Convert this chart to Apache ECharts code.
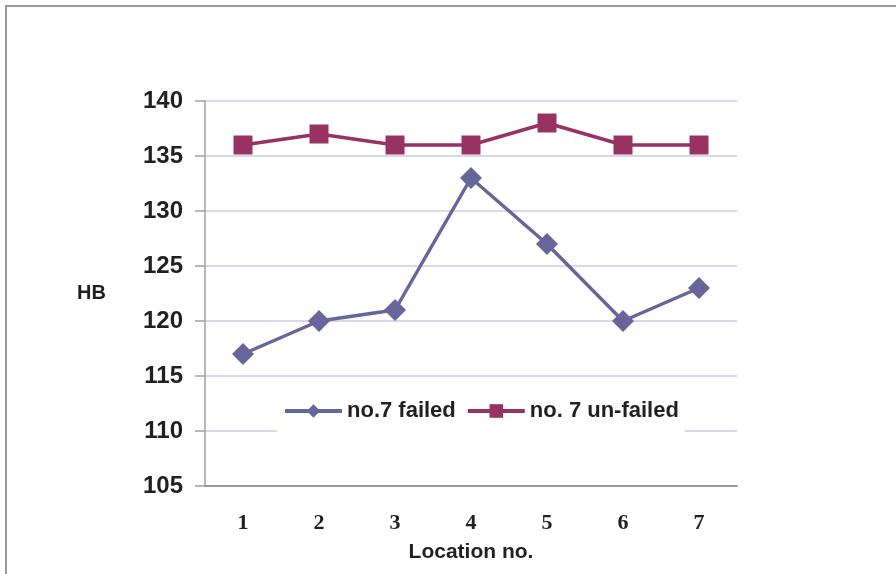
<!DOCTYPE html>
<html><head><meta charset="utf-8">
<script src="https://cdn.jsdelivr.net/npm/echarts@6/dist/echarts.min.js"></script>
<style>html,body{margin:0;padding:0;background:#fff}#c{width:896px;height:574px}</style>
</head><body><div id="c"></div>
<script>
const categories = ['1','2','3','4','5','6','7'];
const failed = [117, 120, 121, 133, 127, 120, 123];
const unfailed = [136, 137, 136, 136, 138, 136, 136];
const yTicks = {min: 105, max: 140, interval: 5};

const chart = echarts.init(document.getElementById('c'), null, {renderer: 'canvas'});
chart.setOption({
  animation: false,
  backgroundColor: '#fff',
  graphic: [
    {type: 'line', shape: {x1: 5, y1: 6, x2: 896, y2: 6}, style: {stroke: '#9a9a9a', lineWidth: 2}},
    {type: 'line', shape: {x1: 6, y1: 6, x2: 6, y2: 574}, style: {stroke: '#9a9a9a', lineWidth: 2}}
  ],
  grid: {left: 205, right: 159, top: 101, bottom: 88},
  legend: {
    top: 386, left: 277,
    backgroundColor: '#fff',
    padding: [14, 6, 14, 6],
    itemWidth: 57, itemHeight: 17, itemGap: 10,
    lineStyle: {width: 4},
    textStyle: {fontFamily: 'Liberation Sans, Arial', fontWeight: 'bold', fontSize: 22, color: '#231f20', padding: [0, 0, 0, 0]},
    data: ['no.7 failed', 'no. 7 un-failed']
  },
  xAxis: {
    type: 'category', data: categories, boundaryGap: true,
    name: 'Location no.', nameLocation: 'middle', nameGap: 56,
    nameTextStyle: {fontFamily: 'Liberation Sans, Arial', fontWeight: 'bold', fontSize: 21, color: '#231f20'},
    axisLine: {lineStyle: {color: '#999', width: 2}},
    axisTick: {show: false},
    axisLabel: {margin: 26, fontFamily: 'Liberation Serif, Times New Roman', fontWeight: 'bold', fontSize: 22, color: '#231f20'},
    splitLine: {show: false}
  },
  yAxis: {
    type: 'value', min: yTicks.min, max: yTicks.max, interval: yTicks.interval,
    name: 'HB', nameLocation: 'middle', nameRotate: 0, nameGap: 99,
    nameTextStyle: {fontFamily: 'Liberation Sans, Arial', fontWeight: 'bold', fontSize: 20, color: '#231f20', padding: [6, 0, 0, 0]},
    axisLine: {show: true, lineStyle: {color: '#a0a0a0', width: 1.5}},
    axisTick: {show: true, length: 10, lineStyle: {color: '#a0a0a0', width: 1.5}},
    axisLabel: {margin: 22, fontFamily: 'Liberation Sans, Arial', fontWeight: 'bold', fontSize: 24, color: '#231f20'},
    splitLine: {lineStyle: {color: '#cdc9e8', width: 1.5}}
  },
  series: [
    {name: 'no.7 failed', type: 'line', data: failed, symbol: 'diamond', symbolSize: 22,
     lineStyle: {color: '#66669b', width: 3.5}, itemStyle: {color: '#66669b'}, z: 3},
    {name: 'no. 7 un-failed', type: 'line', data: unfailed, symbol: 'rect', symbolSize: 19,
     lineStyle: {color: '#973263', width: 3.5}, itemStyle: {color: '#973263'}, z: 3}
  ]
});
</script></body></html>
